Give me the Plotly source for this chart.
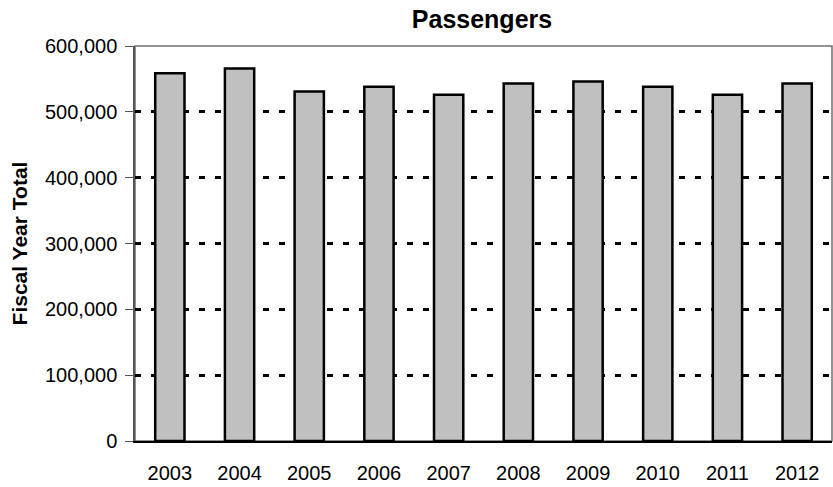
import plotly.graph_objects as go

years = ["2003", "2004", "2005", "2006", "2007", "2008", "2009", "2010", "2011", "2012"]
passengers = [558600, 566000, 531000, 538000, 526000, 543000, 546000, 538000, 526000, 543000]
y_ticks = [0, 100000, 200000, 300000, 400000, 500000, 600000]
y_tick_text = ["0", "100,000", "200,000", "300,000", "400,000", "500,000", "600,000"]

fig = go.Figure(
    go.Bar(
        x=years,
        y=passengers,
        marker=dict(color="#c0c0c0", line=dict(color="black", width=2.5)),
        width=0.42,
    )
)

fig.update_layout(
    width=833,
    height=487,
    margin=dict(l=135, r=1, t=46, b=46),
    paper_bgcolor="white",
    plot_bgcolor="white",
    font=dict(family="Arial, Liberation Sans, sans-serif", size=20, color="black"),
    title=dict(
        text="<b>Passengers</b>",
        x=482 / 833,
        xanchor="center",
        y=1 - 19 / 487,
        yanchor="middle",
        font=dict(size=25),
    ),
    showlegend=False,
    shapes=[
        dict(type="rect", xref="paper", yref="paper", x0=0, x1=1, y0=0, y1=1,
             line=dict(color="#707070", width=1.5), layer="below"),
    ],
)

fig.update_xaxes(
    type="category",
    showgrid=False,
    showline=True,
    linecolor="black",
    linewidth=2,
    ticks="",
    ticklabelstandoff=13,
    tickfont=dict(size=20),
)

fig.update_yaxes(
    range=[0, 600000],
    tickvals=y_ticks,
    ticktext=y_tick_text,
    showgrid=True,
    gridcolor="black",
    gridwidth=2.5,
    griddash="6px,10px",
    showline=True,
    linecolor="#555555",
    linewidth=1.5,
    ticks="outside",
    ticklen=8,
    tickcolor="#555555",
    ticklabelstandoff=4,
    tickfont=dict(size=20),
    zeroline=False,
    title=dict(text="<b>Fiscal Year Total</b>", font=dict(size=21), standoff=12),
)

fig.write_html("out.html")
